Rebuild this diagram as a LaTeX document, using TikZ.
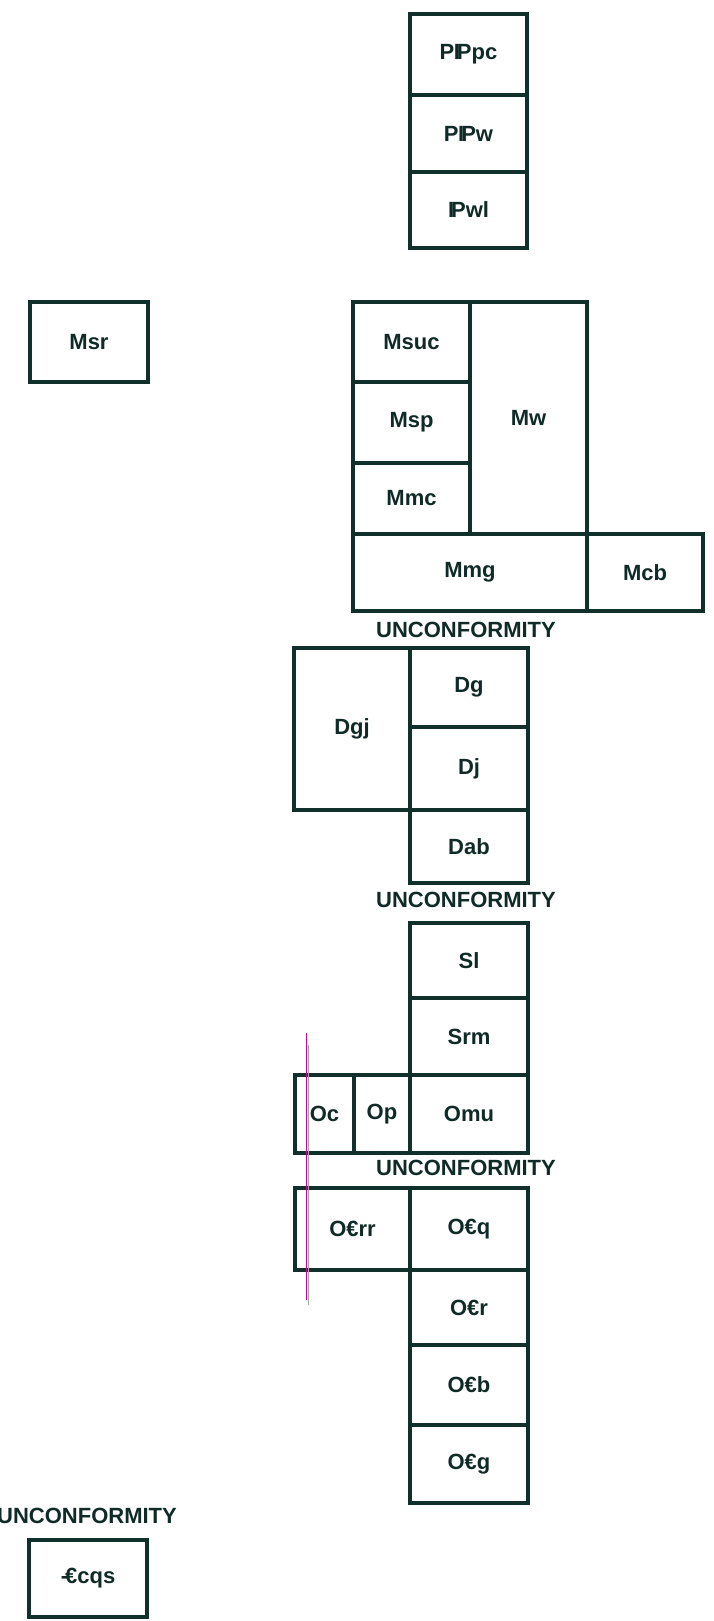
\documentclass[tikz,border=0pt]{standalone}
\usepackage{fontspec}
\setmainfont{Liberation Sans}
\definecolor{ink}{HTML}{12302B}
\definecolor{txt}{HTML}{0F2A27}
\begin{document}
\begin{tikzpicture}[x=1pt,y=-1pt,
  cell/.style={draw=ink, line width=3.1pt, inner sep=0pt, text=txt,
    font=\fontsize{22}{25}\selectfont\bfseries},
  unc/.style={inner sep=0pt, text=txt, font=\fontsize{22}{25}\selectfont\bfseries}]
\useasboundingbox (0,0) rectangle (714,1621);
% top column
\node[cell, minimum width=117pt, minimum height=81pt] (pppc) at (468.5,54.5) {P\kern-0.5pt I\kern-3pt Ppc};
\node[cell, minimum width=117pt, minimum height=77pt] (ppw) at (468.5,133.5) {P\kern-0.5pt I\kern-3pt Pw};
\node[cell, minimum width=117pt, minimum height=76pt] (pwl) at (468.5,210) {I\kern-3pt Pwl};
% Msr
\node[cell, minimum width=118pt, minimum height=80pt] (msr) at (89,342) {Msr};
% M block
\node[cell, minimum width=117pt, minimum height=80pt] (msuc) at (411.5,342) {Msuc};
\node[cell, minimum width=117pt, minimum height=81pt] (msp) at (411.5,422.5) {Msp};
\node[cell, minimum width=117pt, minimum height=71pt] (mmc) at (411.5,498.5) {Mmc};
\node[cell, minimum width=117pt, minimum height=232pt] (mw) at (528.5,418) {Mw};
\node[cell, minimum width=234pt, minimum height=77pt] (mmg) at (470,572.5) {Mmg};
\node[cell, minimum width=116pt, minimum height=77pt] (mcb) at (645,572.5) {Mcb};
\node[unc] (u1) at (466,630) {UNCONFORMITY};
% D block
\node[cell, minimum width=116pt, minimum height=162pt] (dgj) at (352,729) {Dgj};
\node[cell, minimum width=118pt, minimum height=79pt] (dg) at (469,687.5) {Dg};
\node[cell, minimum width=118pt, minimum height=83pt] (dj) at (469,768.5) {Dj};
\node[cell, minimum width=118pt, minimum height=73pt] (dab) at (469,846.5) {Dab};
\node[unc] (u2) at (466,900) {UNCONFORMITY};
% S / O block
\node[cell, minimum width=118pt, minimum height=75pt] (sl) at (469,960.5) {Sl};
\node[cell, minimum width=118pt, minimum height=77pt] (srm) at (469,1036.5) {Srm};
\node[cell, minimum width=118pt, minimum height=78pt] (omu) at (469,1114) {Omu};
\node[cell, minimum width=59pt, minimum height=78pt] (oc) at (324.5,1114) {Oc};
\node[cell, minimum width=56pt, minimum height=78pt] (op) at (382,1114) {Op};
\node[unc] (u3) at (466,1168) {UNCONFORMITY};
% O-Cambrian block
\node[cell, minimum width=115pt, minimum height=82pt] (ocrr) at (352.5,1229) {O€rr};
\node[cell, minimum width=118pt, minimum height=82pt] (ocq) at (469,1229) {O€q};
\node[cell, minimum width=118pt, minimum height=75pt] (ocr) at (469,1307.5) {O€r};
\node[cell, minimum width=118pt, minimum height=80pt] (ocb) at (469,1385) {O€b};
\node[cell, minimum width=118pt, minimum height=78pt] (ocg) at (469,1464) {O€g};
\node[unc] (u4) at (87,1516) {UNCONFORMITY};
\node[cell, minimum width=118pt, minimum height=77pt] (ccqs) at (88,1578.5) {-\kern-3pt€cqs};
% scan lines
\draw[magenta!80!blue, line width=0.8pt] (306.5,1033) -- (306.5,1300);
\draw[gray!70, line width=0.8pt] (308.5,1045) -- (308.5,1305);
\end{tikzpicture}
\end{document}
